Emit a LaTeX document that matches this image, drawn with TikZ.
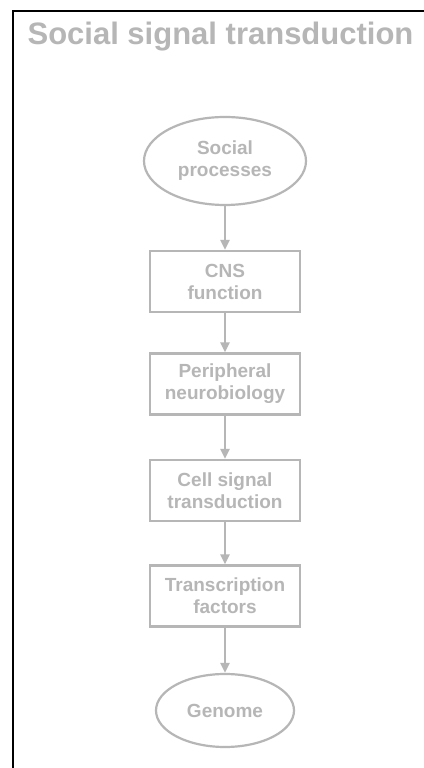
\documentclass[tikz,border=0pt]{standalone}
\usepackage{fontspec}
\setmainfont{Liberation Sans}
\usepackage{tikz}
\usetikzlibrary{arrows.meta,shapes.geometric}
\definecolor{SigGrey}{HTML}{B6B6B6}
\definecolor{FrameBlack}{HTML}{000000}

\begin{document}
\begin{tikzpicture}[x=1pt,y=1pt,
    stage/.style={draw=SigGrey, line width=2.2pt, text=SigGrey, font=\fontsize{19}{22}\selectfont\bfseries,
      align=center, inner sep=0pt, minimum width=150pt, minimum height=61pt},
    terminal/.style={stage, ellipse},
    flow/.style={draw=SigGrey, line width=2.4pt, -{Triangle[width=9pt,length=10pt]}}]
  \useasboundingbox (0,0) rectangle (423,768);
  \fill[white] (0,0) rectangle (423,768);
  % frame, only top and left edges fall on the page
  \draw[FrameBlack, line width=2pt] (13,-5) -- (13,757) -- (430,757);
  \node[text=SigGrey, font=\fontsize{31}{36}\selectfont\bfseries, anchor=base] (title) at (220.5,723) {Social signal transduction};
  \node[terminal, minimum width=162pt, minimum height=88pt] (social) at (225,607) {Social\\processes};
  \node[stage] (cns) at (225,486.5) {CNS\\function};
  \node[stage] (periph) at (225,384) {Peripheral\\neurobiology};
  \node[stage] (cell) at (225,277.5) {Cell signal\\transduction};
  \node[stage] (tf) at (225,172) {Transcription\\factors};
  \node[terminal, minimum width=138pt, minimum height=73pt] (genome) at (225,57.5) {Genome};
  \draw[flow] (social) -- (cns);
  \draw[flow] (cns) -- (periph);
  \draw[flow] (periph) -- (cell);
  \draw[flow] (cell) -- (tf);
  \draw[flow] (tf) -- (genome);
\end{tikzpicture}
\end{document}
